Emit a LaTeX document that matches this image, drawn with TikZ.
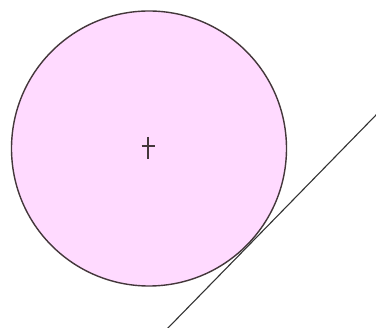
\documentclass[tikz,border=0pt]{standalone}
\begin{document}
\begin{tikzpicture}[x=1pt,y=-1pt,
  disc/.style={draw=black!85!magenta, fill=pinkfill, line width=1.4pt},
  tangentline/.style={draw=black!80, line width=1.1pt},
  crossmark/.style={draw=black!85!magenta, line width=1.4pt}]
\definecolor{pinkfill}{RGB}{255,218,255}
\useasboundingbox (0,0) rectangle (376,328);
\fill[white] (0,0) rectangle (376,328);
\coordinate (c) at (149,148.5);
\draw[disc] (c) circle[radius=137.5];
\draw[crossmark] (148,137) -- (148,159);
\draw[crossmark] (141.5,146) -- (155,146);
\coordinate (lineA) at (167,329);
\coordinate (lineB) at (377,114);
\draw[tangentline] (lineA) -- (lineB);
\end{tikzpicture}
\end{document}
